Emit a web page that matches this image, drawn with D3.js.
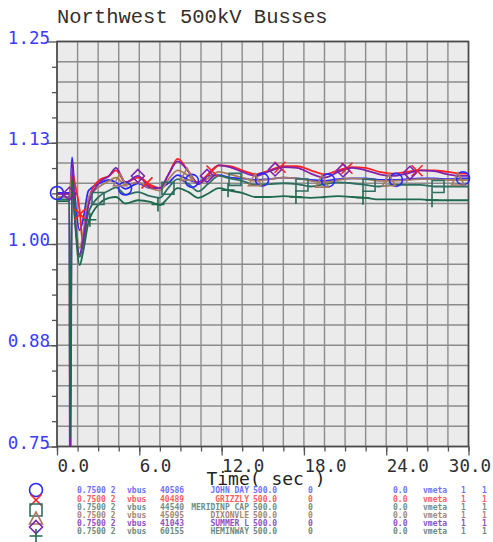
<!DOCTYPE html>
<html>
<head>
<meta charset="utf-8">
<script src="https://cdn.jsdelivr.net/npm/d3@7"></script>
<style>
  body { margin: 0; background: #fff; }
  svg text { font-family: "DejaVu Sans Mono", monospace; }
</style>
</head>
<body>
<svg id="chart" width="493" height="542"></svg>
<script>
// values (per unit voltage vs. time in seconds)
var timeSec = [0, 0.9, 0.95, 1.1, 1.3, 1.65, 1.9, 2.3, 3.1, 3.8, 4.3, 5.0, 5.9, 6.8, 7.5, 8.1, 8.8, 9.6, 10.3, 11.0, 11.8,
               12.6, 13.5, 14.5, 15.5, 16.5, 17.5, 18.5, 19.5, 20.5, 21.5, 22.5, 23.5, 24.5, 25.5, 26.5, 27.5, 28.5, 29.5, 30];

var johnDay  = [1.063, 1.063, 1.063, 1.107, 1.060, 1.017, 1.030, 1.066, 1.075, 1.079, 1.076, 1.068, 1.075, 1.069, 1.069, 1.075, 1.085, 1.079, 1.076, 1.084, 1.085,
                1.082, 1.081, 1.079, 1.080, 1.082, 1.081, 1.079, 1.078, 1.080, 1.081, 1.081, 1.079, 1.079, 1.080, 1.081, 1.081, 1.080, 1.081, 1.081];
var grizzly  = [1.062, 1.062, 1.062, 1.091, 1.075, 1.042, 0.999, 1.055, 1.079, 1.084, 1.091, 1.076, 1.082, 1.073, 1.069, 1.085, 1.105, 1.089, 1.075, 1.086, 1.097,
                1.096, 1.091, 1.086, 1.091, 1.096, 1.096, 1.091, 1.086, 1.091, 1.095, 1.094, 1.089, 1.087, 1.089, 1.091, 1.091, 1.089, 1.087, 1.087];
var meridinp = [1.055, 1.055, 1.055, 1.081, 1.036, 0.984, 1.000, 1.039, 1.059, 1.066, 1.070, 1.061, 1.064, 1.059, 1.057, 1.069, 1.080, 1.074, 1.065, 1.074, 1.084,
                1.081, 1.078, 1.073, 1.074, 1.075, 1.074, 1.071, 1.074, 1.076, 1.075, 1.073, 1.071, 1.073, 1.073, 1.073, 1.071, 1.071, 1.071, 1.071];
var dixonvle = [1.058, 1.058, 1.058, 1.094, 1.042, 0.995, 1.012, 1.057, 1.071, 1.078, 1.082, 1.073, 1.076, 1.069, 1.066, 1.079, 1.091, 1.084, 1.074, 1.081, 1.089,
                1.086, 1.082, 1.078, 1.080, 1.082, 1.081, 1.078, 1.076, 1.079, 1.081, 1.080, 1.078, 1.078, 1.079, 1.080, 1.080, 1.079, 1.079, 1.079];
var summerL  = [1.062, 1.062, 0.600, 1.101, 1.036, 0.987, 1.005, 1.048, 1.076, 1.084, 1.094, 1.076, 1.084, 1.070, 1.069, 1.085, 1.102, 1.089, 1.074, 1.085, 1.097,
                1.095, 1.089, 1.084, 1.090, 1.095, 1.094, 1.087, 1.082, 1.089, 1.094, 1.091, 1.086, 1.084, 1.087, 1.091, 1.090, 1.086, 1.084, 1.084];
var heminway = [1.053, 1.053, 0.760, 1.079, 1.030, 0.974, 0.990, 1.027, 1.050, 1.057, 1.058, 1.050, 1.054, 1.052, 1.048, 1.057, 1.069, 1.064, 1.057, 1.062, 1.069,
                1.066, 1.063, 1.058, 1.058, 1.059, 1.058, 1.057, 1.058, 1.059, 1.058, 1.057, 1.055, 1.055, 1.055, 1.055, 1.054, 1.054, 1.054, 1.054];

// times where each trace carries its symbol
var circleTimes   = [0, 4.96, 9.84, 14.95, 19.76, 24.71, 29.6];
var crossTimes    = [1.68, 6.56, 11.3, 16.26, 21.14, 26.25];
var squareTimes   = [2.99, 8.09, 12.98, 17.86, 22.75, 27.78];
var triangleTimes = [4.59, 9.48, 14.43, 19.32, 24.2, 29.23];
var diamondTimes  = [0.9, 5.9, 10.94, 15.9, 20.85, 25.73];
var plusTimes     = [2.4, 7.36, 12.47, 17.42, 22.31, 27.34];

var busNames   = ["JOHN DAY", "GRIZZLY", "MERIDINP CAP", "DIXONVLE", "SUMMER L", "HEMINWAY"];
var busNumbers = ["40586", "40489", "44540", "45095", "41043", "60155"];

var xTicks = [0, 6, 12, 18, 24, 30];
var xTickLabels = ["0.0", "6.0", "12.0", "18.0", "24.0", "30.0"];
var yTicks = [0.75, 0.875, 1.0, 1.125, 1.25];
var yTickLabels = ["0.75", "0.88", "1.00", "1.13", "1.25"];

var series = [johnDay, grizzly, meridinp, dixonvle, summerL, heminway];
var markTimes = [circleTimes, crossTimes, squareTimes, triangleTimes, diamondTimes, plusTimes];
var symbols = ["circle", "cross", "square", "triangle", "diamond", "plus"];
var lineColors = ["#2a2aff", "#ff2020", "#2f6f62", "#a97a62", "#7e22b0", "#1f6a4e"];
var textColors = ["#7070ff", "#ff6060", "#6d8f86", "#a88672", "#9150c2", "#6f8b7b"];

var svg = d3.select("#chart"),
    margin = {top: 41.5, right: 24.5, bottom: 95.5, left: 57},
    width = +svg.attr("width") - margin.left - margin.right,
    height = +svg.attr("height") - margin.top - margin.bottom,
    g = svg.append("g").attr("transform", "translate(" + margin.left + "," + margin.top + ")");

var x = d3.scaleLinear().domain([0, 30]).range([0, width]);
var y = d3.scaleLinear().domain([0.75, 1.25]).range([height, 0]);

// title
svg.append("text")
    .attr("x", 57).attr("y", 23)
    .style("font-family", "'Liberation Mono', monospace")
    .style("font-size", "20.5px")
    .attr("fill", "#352f28")
    .text("Northwest 500kV Busses");

// plot background + grid
g.append("rect").attr("width", width).attr("height", height).attr("fill", "#ebebeb");

var xGrid = d3.range(0, 30.001, 1.5);
var yGrid = d3.range(0.75, 1.2501, 0.025);

g.selectAll(".vg").data(xGrid).enter().append("line")
    .attr("x1", function(d) { return x(d); }).attr("x2", function(d) { return x(d); })
    .attr("y1", 0).attr("y2", height)
    .attr("stroke", "#8c8c8c").attr("stroke-width", 1.4);
g.selectAll(".hg").data(yGrid).enter().append("line")
    .attr("y1", function(d) { return y(d); }).attr("y2", function(d) { return y(d); })
    .attr("x1", 0).attr("x2", width)
    .attr("stroke", "#8c8c8c").attr("stroke-width", 1.4);

// axes
var xMinor = d3.axisBottom(x).tickValues(xGrid).tickSize(5).tickFormat("");
g.append("g").attr("transform", "translate(0," + height + ")").call(xMinor);

var xAxis = d3.axisBottom(x).tickValues(xTicks).tickSize(9)
    .tickFormat(function(d, i) { return xTickLabels[i]; });
var xg = g.append("g").attr("transform", "translate(0," + height + ")").call(xAxis);
xg.selectAll("text")
    .attr("text-anchor", "start").attr("y", 25.5).attr("dy", 0)
    .style("font-size", "17.5px").attr("fill", "#2e2e2e");
xg.selectAll(".tick:last-of-type text").attr("text-anchor", "end").attr("x", 22);

var yMinor = d3.axisLeft(y).tickValues(d3.range(0.75, 1.25, 0.03125)).tickSize(5).tickFormat("");
g.append("g").call(yMinor);

var yAxis = d3.axisLeft(y).tickValues(yTicks).tickSize(10)
    .tickFormat(function(d, i) { return yTickLabels[i]; });
var yg = g.append("g").call(yAxis);
yg.selectAll("text")
    .attr("x", -7).attr("dy", 1.5)
    .style("font-size", "17.5px").attr("fill", "#3b3bff");

g.selectAll(".domain").remove();
g.selectAll(".tick line").attr("stroke", "#555").attr("stroke-width", 1.3);

g.append("rect").attr("width", width).attr("height", height)
    .attr("fill", "none").attr("stroke", "#4a4a4a").attr("stroke-width", 1.6);

// traces
svg.append("defs").append("clipPath").attr("id", "plotclip")
  .append("rect").attr("width", width).attr("height", height);

var line = d3.line()
    .x(function(d) { return x(d[0]); })
    .y(function(d) { return y(d[1]); })
    .curve(d3.curveMonotoneX);

var traces = g.append("g").attr("clip-path", "url(#plotclip)");
series.forEach(function(vals, i) {
  traces.append("path")
      .datum(timeSec.map(function(t, j) { return [t, vals[j]]; }))
      .attr("fill", "none")
      .attr("stroke", lineColors[i])
      .attr("stroke-width", 1.8)
      .attr("stroke-linejoin", "round")
      .attr("d", line);
});

function valueAt(vals, t) {
  var j = d3.bisectLeft(timeSec, t);
  if (j <= 0) return vals[0];
  if (j >= timeSec.length) return vals[vals.length - 1];
  var t0 = timeSec[j - 1], t1 = timeSec[j];
  return vals[j - 1] + (vals[j] - vals[j - 1]) * (t - t0) / (t1 - t0);
}

function drawSymbol(sel, type, cx, cy, color) {
  var s = 6.5, p;
  if (type === "circle") {
    sel.append("circle").attr("cx", cx).attr("cy", cy).attr("r", s)
        .attr("fill", "none").attr("stroke", color).attr("stroke-width", 1.6);
    return;
  }
  if (type === "cross") p = "M" + (cx - 5.5) + "," + (cy - 5.5) + "L" + (cx + 5.5) + "," + (cy + 5.5) +
                            "M" + (cx + 5.5) + "," + (cy - 5.5) + "L" + (cx - 5.5) + "," + (cy + 5.5);
  if (type === "square") p = "M" + (cx - 6) + "," + (cy - 6) + "h12v12h-12z";
  if (type === "triangle") p = "M" + cx + "," + (cy - 7) + "L" + (cx + 6.5) + "," + (cy + 5) + "L" + (cx - 6.5) + "," + (cy + 5) + "Z";
  if (type === "diamond") p = "M" + cx + "," + (cy - s) + "L" + (cx + s) + "," + cy + "L" + cx + "," + (cy + s) + "L" + (cx - s) + "," + cy + "Z";
  if (type === "plus") p = "M" + (cx - 6.5) + "," + cy + "h13M" + cx + "," + (cy - 7) + "v14";
  sel.append("path").attr("d", p).attr("fill", "none")
      .attr("stroke", color).attr("stroke-width", 1.6);
}

var marks = g.append("g");
series.forEach(function(vals, i) {
  markTimes[i].forEach(function(t) {
    drawSymbol(marks, symbols[i], x(t), y(valueAt(vals, t)), lineColors[i]);
  });
});

// axis title
svg.append("text")
    .attr("x", 266).attr("y", 485)
    .attr("text-anchor", "middle")
    .style("font-size", "18px").attr("fill", "#222")
    .text("Time( sec )");

// legend
var legendRowY = [490, 499, 507, 515, 523, 531];
var legendSymY = [490, 500, 510, 519, 527, 536];
var leg = svg.append("g").style("font-size", "8px").style("font-weight", "bold");
series.forEach(function(vals, i) {
  drawSymbol(leg, symbols[i], 36, legendSymY[i], lineColors[i]);
  var row = leg.append("g").attr("fill", textColors[i])
      .attr("transform", "translate(0," + (legendRowY[i] + 2.8) + ")");
  var cells = [
    [77, "start", "0.7500 2"], [127, "start", "vbus"], [160, "start", busNumbers[i]],
    [249, "end", busNames[i]], [253, "start", "500.0"], [308, "start", "0"],
    [393, "start", "0.0"], [423, "start", "vmeta"], [461, "start", "1"], [482, "start", "1"]
  ];
  cells.forEach(function(c) {
    row.append("text").attr("x", c[0]).attr("text-anchor", c[1]).text(c[2]);
  });
});
</script>
</body>
</html>
